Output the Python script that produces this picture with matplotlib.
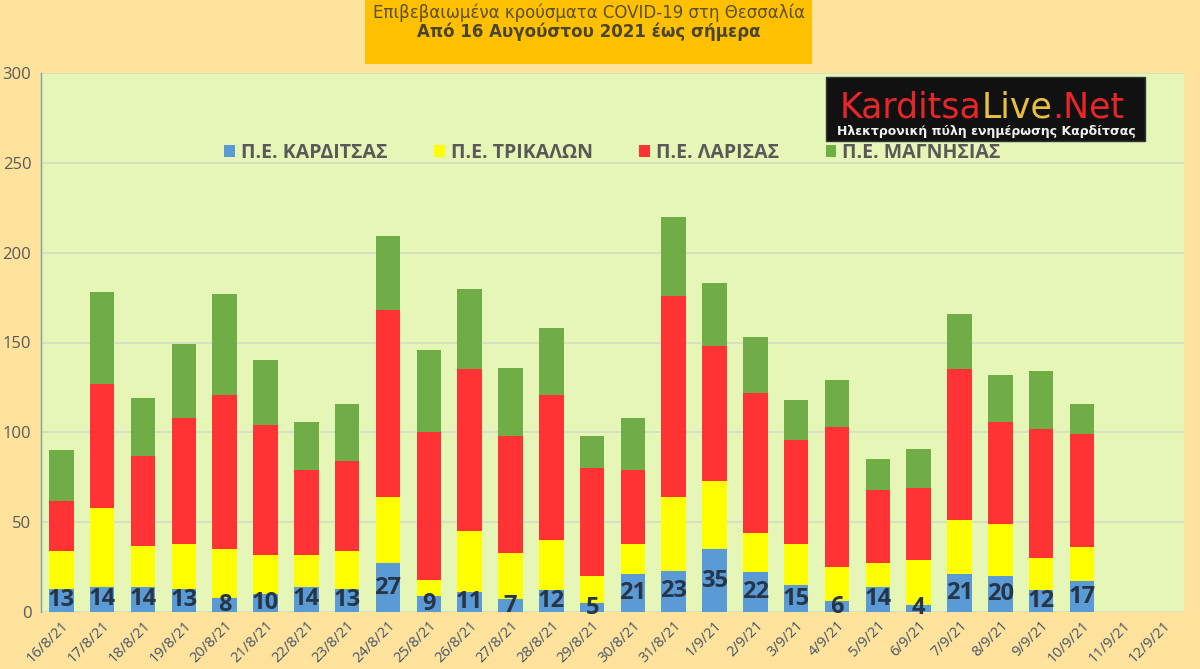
import matplotlib
matplotlib.use("Agg")
import matplotlib.pyplot as plt
import numpy as np
from matplotlib.patches import Rectangle

dates = ["16/8/21", "17/8/21", "18/8/21", "19/8/21", "20/8/21", "21/8/21", "22/8/21",
         "23/8/21", "24/8/21", "25/8/21", "26/8/21", "27/8/21", "28/8/21", "29/8/21",
         "30/8/21", "31/8/21", "1/9/21", "2/9/21", "3/9/21", "4/9/21", "5/9/21",
         "6/9/21", "7/9/21", "8/9/21", "9/9/21", "10/9/21", "11/9/21", "12/9/21"]

karditsa = [13, 14, 14, 13, 8, 10, 14, 13, 27, 9, 11, 7, 12, 5,
            21, 23, 35, 22, 15, 6, 14, 4, 21, 20, 12, 17, 0, 0]
trikala = [21, 44, 23, 25, 27, 22, 18, 21, 37, 9, 34, 26, 28, 15,
           17, 41, 38, 22, 23, 19, 13, 25, 30, 29, 18, 19, 0, 0]
larisa = [28, 69, 50, 70, 86, 72, 47, 50, 104, 82, 90, 65, 81, 60,
          41, 112, 75, 78, 58, 78, 41, 40, 84, 57, 72, 63, 0, 0]
magnisia = [28, 51, 32, 41, 56, 36, 27, 32, 41, 46, 45, 38, 37, 18,
            29, 44, 35, 31, 22, 26, 17, 22, 31, 26, 32, 17, 0, 0]
has_data = [True] * 26 + [False, False]

series_names = ["Π.Ε. ΚΑΡΔΙΤΣΑΣ", "Π.Ε. ΤΡΙΚΑΛΩΝ", "Π.Ε. ΛΑΡΙΣΑΣ", "Π.Ε. ΜΑΓΝΗΣΙΑΣ"]
colors = ["#5B9BD5", "#FFFF00", "#FF3333", "#70AD47"]

title1 = "Επιβεβαιωμένα κρούσματα COVID-19 στη Θεσσαλία"
title2 = "Από 16 Αυγούστου 2021 έως σήμερα"

fig_bg = "#FFE29C"
ax_bg = "#E6F6B6"

fig = plt.figure(figsize=(12, 6.69), dpi=100)
fig.patch.set_facecolor(fig_bg)
ax = fig.add_axes([41/1200, 1 - 612/669, (1184-41)/1200, (612-73)/669])
ax.set_facecolor(ax_bg)

x = np.arange(len(dates))
k = np.array(karditsa, float)
t = np.array(trikala, float)
l = np.array(larisa, float)
m = np.array(magnisia, float)
w = 0.6
ax.bar(x, k, w, color=colors[0], label=series_names[0], zorder=3)
ax.bar(x, t, w, bottom=k, color=colors[1], label=series_names[1], zorder=3)
ax.bar(x, l, w, bottom=k+t, color=colors[2], label=series_names[2], zorder=3)
ax.bar(x, m, w, bottom=k+t+l, color=colors[3], label=series_names[3], zorder=3)

for xi, v, hd in zip(x, karditsa, has_data):
    if hd:
        ax.text(xi, v/2, str(v), ha="center", va="center", fontsize=17,
                fontweight="bold", color="#263548", family="Open Sans", zorder=5)

ax.set_xlim(-0.5, len(dates) - 0.5)
ax.set_ylim(0, 300)
ax.set_yticks(range(0, 301, 50))
ax.yaxis.grid(True, color="#D6DCC8", linewidth=1.2, zorder=0)
ax.tick_params(axis="y", length=0, labelsize=12, labelcolor="#595959", pad=7)
for lab in ax.get_yticklabels():
    lab.set_family("Open Sans")
ax.set_xticks(x)
ax.set_xticklabels(dates, rotation=45, ha="right", rotation_mode="anchor",
                   fontsize=10.5, color="#44546A", family="Open Sans")
ax.tick_params(axis="x", length=0, pad=4)
for s in ["top", "right", "bottom"]:
    ax.spines[s].set_visible(False)
ax.spines["left"].set_color("#7F9FB0")
ax.spines["left"].set_linewidth(1)

leg = ax.legend(loc="center", bbox_to_anchor=(0.5000, 0.852), ncol=4, frameon=False,
                prop={"family": "Open Sans", "weight": "bold", "size": 14},
                handlelength=0.55, handleheight=0.55, handletextpad=0.3,
                columnspacing=2.4)
for txt in leg.get_texts():
    txt.set_color("#595959")

# Title box
fig.patches.append(Rectangle((365/1200, 1 - 64/669), (812-365)/1200, 64/669,
                             transform=fig.transFigure, facecolor="#FFC000",
                             edgecolor="none", zorder=1))
fig.text(589/1200, 1 - 13/669, title1, ha="center", va="center", fontsize=12,
         color="#5A5030", family="DejaVu Sans")
fig.text(589/1200, 1 - 32/669, title2, ha="center", va="center", fontsize=12,
         color="#4A4530", family="DejaVu Sans", fontweight="bold")

# Logo
fig.patches.append(Rectangle((826/1200, 1 - 141/669), (1145-826)/1200, 64/669,
                             transform=fig.transFigure, facecolor="#111111",
                             edgecolor="#333333", zorder=6))
base_y = 1 - 118/669
t1 = fig.text(840/1200, base_y, "Karditsa", ha="left", va="baseline", fontsize=25,
              color="#E8262A", family="DejaVu Sans", zorder=7)
t2 = fig.text(0, 0, "Live", ha="left", va="baseline", fontsize=25,
              color="#E8C040", family="DejaVu Sans", zorder=7)
t3 = fig.text(0, 0, ".Net", ha="left", va="baseline", fontsize=25,
              color="#E8262A", family="DejaVu Sans", zorder=7)
fig.canvas.draw()
r = fig.canvas.get_renderer()
inv = fig.transFigure.inverted()
bb1 = t1.get_window_extent(r)
t2.set_position((inv.transform((bb1.x1, 0))[0], base_y))
bb2 = t2.get_window_extent(r)
t3.set_position((inv.transform((bb2.x1, 0))[0], base_y))
fig.text(986/1200, 1 - 131/669, "Ηλεκτρονική πύλη ενημέρωσης Καρδίτσας", ha="center",
         va="center", fontsize=9, color="#F0F0F0", family="DejaVu Sans",
         fontweight="bold", zorder=7)

fig.savefig("out.png", dpi=100, facecolor=fig_bg)
